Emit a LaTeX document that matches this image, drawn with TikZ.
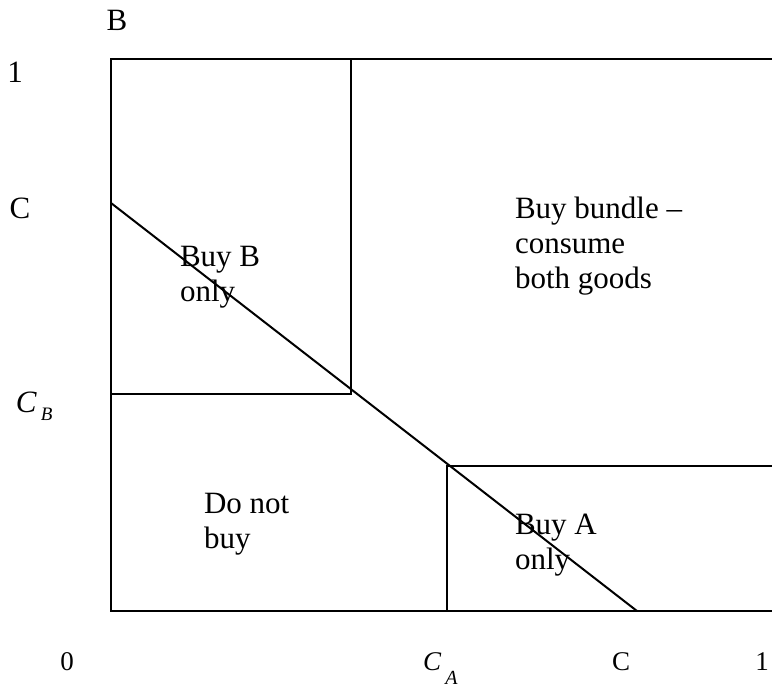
\documentclass[tikz,border=0pt]{standalone}
\usepackage{fontspec}
\setmainfont{Liberation Serif}
\usetikzlibrary{positioning}
\newcommand{\csub}[3]{\textit{C}\kern4pt\raisebox{-#2pt}{\fontsize{#3}{#3}\selectfont\textit{#1}}}

\begin{document}
\begin{tikzpicture}[x=1pt,y=-1pt,line width=2pt,
		region/.style={align=left,anchor=base west,inner sep=0pt,font=\fontsize{31}{35}\selectfont},
		axlabel/.style={inner sep=0pt,font=\fontsize{31}{35}\selectfont},
		botlabel/.style={inner sep=0pt,anchor=base,font=\fontsize{27}{30}\selectfont}]
		\useasboundingbox (0,0) rectangle (772,691);
		% corners of the unit square (cut at the right)
		\coordinate (TL) at (111,59);
		\coordinate (TR) at (772,59);
		\coordinate (O) at (111,611);
		\coordinate (BR) at (772,611);
		% thresholds
		\coordinate (CB) at (111,394);
		\coordinate (KB) at (351,394);
		\coordinate (KA) at (447,466);
		\coordinate (CA) at (447,611);
		% budget line
		\coordinate (L1) at (111,203);
		\coordinate (L2) at (637,611);
		\draw (TR)--(TL)--(O)--(BR);
		\draw (CB)--(KB)--(KB|-TL);
		\draw (CA)--(KA)--(KA-|BR);
		\draw (L1)--(L2);
		% regions (base = last line)
		\node[region] (buyB) at (179,301) {Buy B\\only};
		\node[region] (bundle) at (514,288) {Buy bundle –\\consume\\both goods};
		\node[region] (none) at (203,548) {Do not\\buy};
		\node[region] (buyA) at (514,569) {Buy A\\only};
		% axis labels
		\node[axlabel] (lblB) at (117,20) {B};
		\node[axlabel] (lblone) at (15,72) {1};
		\node[axlabel] (lblC) at (20,208) {C};
		\node[axlabel,anchor=base west] (lblCB) at (15,412) {\csub{B}{8}{19}};
		\node[botlabel] (lblzero) at (67,670) {0};
		\node[botlabel,anchor=base west] (lblCA) at (422,670) {\csub{A}{14}{20}};
		\node[botlabel] (lblCx) at (621,670) {C};
		\node[botlabel] (lbloneR) at (762,670) {1};
\end{tikzpicture}
\end{document}
